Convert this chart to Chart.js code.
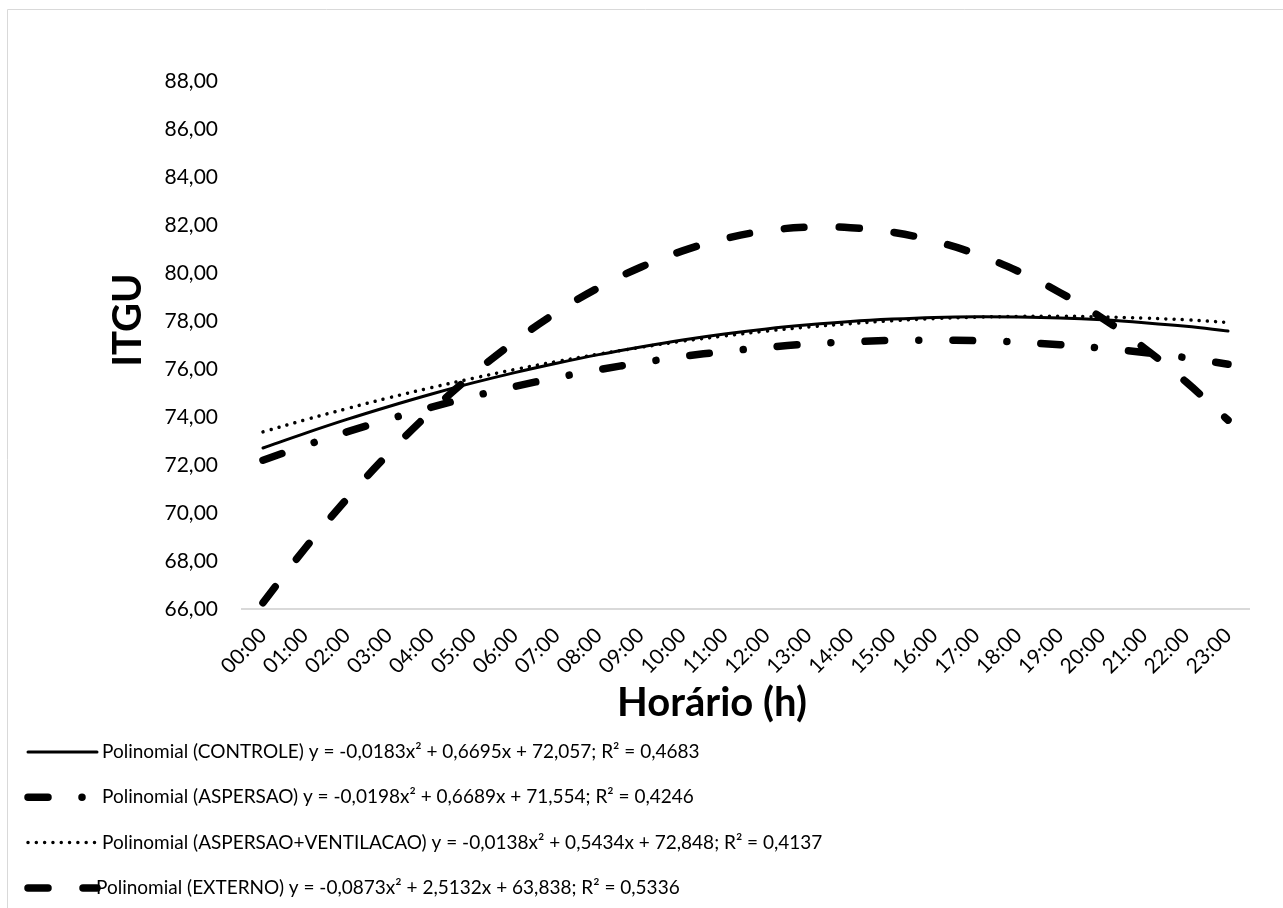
<!DOCTYPE html>
<html lang="pt-BR">
<head>
<meta charset="UTF-8">
<title>ITGU</title>
<style>
  html, body { margin: 0; padding: 0; background: #fff; }
  #wrap { position: relative; width: 1283px; height: 908px; }
</style>
</head>
<body>
<div id="wrap"><canvas id="myChart" width="1283" height="908"></canvas></div>
<script src="https://cdn.jsdelivr.net/npm/chart.js"></script>
<script>
const horarios = ['00:00', '01:00', '02:00', '03:00', '04:00', '05:00', '06:00', '07:00',
  '08:00', '09:00', '10:00', '11:00', '12:00', '13:00', '14:00', '15:00',
  '16:00', '17:00', '18:00', '19:00', '20:00', '21:00', '22:00', '23:00'];

const controle = [72.71, 73.32, 73.90, 74.44, 74.95, 75.42, 75.85, 76.24, 76.60, 76.92, 77.21, 77.46,
  77.67, 77.84, 77.98, 78.08, 78.15, 78.18, 78.17, 78.13, 78.05, 77.93, 77.78, 77.58];
const aspersao = [72.20, 72.81, 73.38, 73.91, 74.40, 74.86, 75.27, 75.64, 75.97, 76.26, 76.52, 76.73,
  76.90, 77.04, 77.13, 77.19, 77.20, 77.18, 77.12, 77.01, 76.87, 76.69, 76.47, 76.20];
const aspersaoVentilacao = [73.38, 73.88, 74.35, 74.80, 75.22, 75.61, 75.98, 76.31, 76.62, 76.90, 77.16, 77.38,
  77.58, 77.75, 77.89, 78.01, 78.10, 78.16, 78.19, 78.20, 78.17, 78.12, 78.05, 77.94];
const externo = [66.26, 68.52, 70.59, 72.49, 74.22, 75.77, 77.15, 78.36, 79.39, 80.24, 80.92, 81.43,
  81.76, 81.91, 81.89, 81.70, 81.33, 80.79, 80.07, 79.18, 78.12, 76.88, 75.46, 73.87];

const yTicks = [66, 68, 70, 72, 74, 76, 78, 80, 82, 84, 86, 88];

const legendTexts = [
  'Polinomial (CONTROLE) y = -0,0183x² + 0,6695x + 72,057; R² = 0,4683',
  'Polinomial (ASPERSAO) y = -0,0198x² + 0,6689x + 71,554; R² = 0,4246',
  'Polinomial (ASPERSAO+VENTILACAO) y = -0,0138x² + 0,5434x + 72,848; R² = 0,4137',
  'Polinomial (EXTERNO) y = -0,0873x² + 2,5132x + 63,838; R² = 0,5336'
];

const FONT = 'Lato, Calibri, "Open Sans", sans-serif';

// bordas, títulos dos eixos e legenda desenhados à mão
const extras = {
  id: 'extras',
  beforeDraw(chart) {
    const ctx = chart.ctx;
    ctx.save();
    ctx.strokeStyle = '#d9d9d9';
    ctx.lineWidth = 1;
    ctx.beginPath();
    ctx.moveTo(7.5, 1000);
    ctx.lineTo(7.5, 9.5);
    ctx.lineTo(1300, 9.5);
    ctx.stroke();
    ctx.restore();
  },
  afterDraw(chart) {
    const ctx = chart.ctx;
    ctx.save();
    ctx.fillStyle = '#000';
    ctx.font = 'bold 40px ' + FONT;
    ctx.textAlign = 'center';
    ctx.textBaseline = 'middle';
    ctx.fillText('Horário (h)', 712, 703);

    ctx.save();
    ctx.translate(128, 320);
    ctx.rotate(-Math.PI / 2);
    ctx.fillText('ITGU', 0, 0);
    ctx.restore();

    chart.data.datasets.forEach((ds, i) => {
      const y = 752 + i * 45.3;
      ctx.strokeStyle = ds.borderColor;
      ctx.lineWidth = ds.borderWidth;
      ctx.lineCap = 'round';
      ctx.setLineDash(ds.borderDash || []);
      ctx.beginPath();
      ctx.moveTo(28, y);
      ctx.lineTo(97, y);
      ctx.stroke();
      ctx.setLineDash([]);
      ctx.font = '19px ' + FONT;
      ctx.textAlign = 'left';
      ctx.fillText(legendTexts[i], i === 3 ? 96 : 102, y);
    });
    ctx.restore();
  }
};

const ctx = document.getElementById('myChart');

new Chart(ctx, {
  type: 'line',
  data: {
    labels: horarios,
    datasets: [
      { label: 'CONTROLE', data: controle, borderColor: '#000', borderWidth: 3 },
      { label: 'ASPERSAO', data: aspersao, borderColor: '#000', borderWidth: 7.5, borderDash: [20, 34, 0.01, 34] },
      { label: 'ASPERSAO+VENTILACAO', data: aspersaoVentilacao, borderColor: '#000', borderWidth: 3.5, borderDash: [0.01, 8.3] },
      { label: 'EXTERNO', data: externo, borderColor: '#000', borderWidth: 7.5, borderDash: [20, 35] }
    ]
  },
  options: {
    responsive: false,
    animation: false,
    layout: { padding: { left: 104, right: 34, top: 81, bottom: 209 } },
    elements: {
      point: { radius: 0 },
      line: { tension: 0.4, borderCapStyle: 'round', fill: false }
    },
    plugins: {
      legend: { display: false },
      tooltip: { enabled: false }
    },
    scales: {
      x: {
        offset: true,
        grid: { display: false, drawTicks: false },
        border: { display: true, color: '#d9d9d9', width: 2 },
        ticks: { autoSkip: false, maxRotation: 45, minRotation: 45, color: '#000', padding: 14,
          font: { family: FONT, size: 21 } },
        afterFit: s => { s.height = 90; }
      },
      y: {
        min: 66,
        max: 88,
        grid: { display: false, drawTicks: false },
        border: { display: false },
        afterBuildTicks: s => { s.ticks = yTicks.map(v => ({ value: v })); },
        ticks: { color: '#000', padding: 24, font: { family: FONT, size: 21 },
          callback: v => v.toFixed(2).replace('.', ',') },
        afterFit: s => { s.width = 138; }
      }
    }
  },
  plugins: [extras]
});
</script>
</body>
</html>
